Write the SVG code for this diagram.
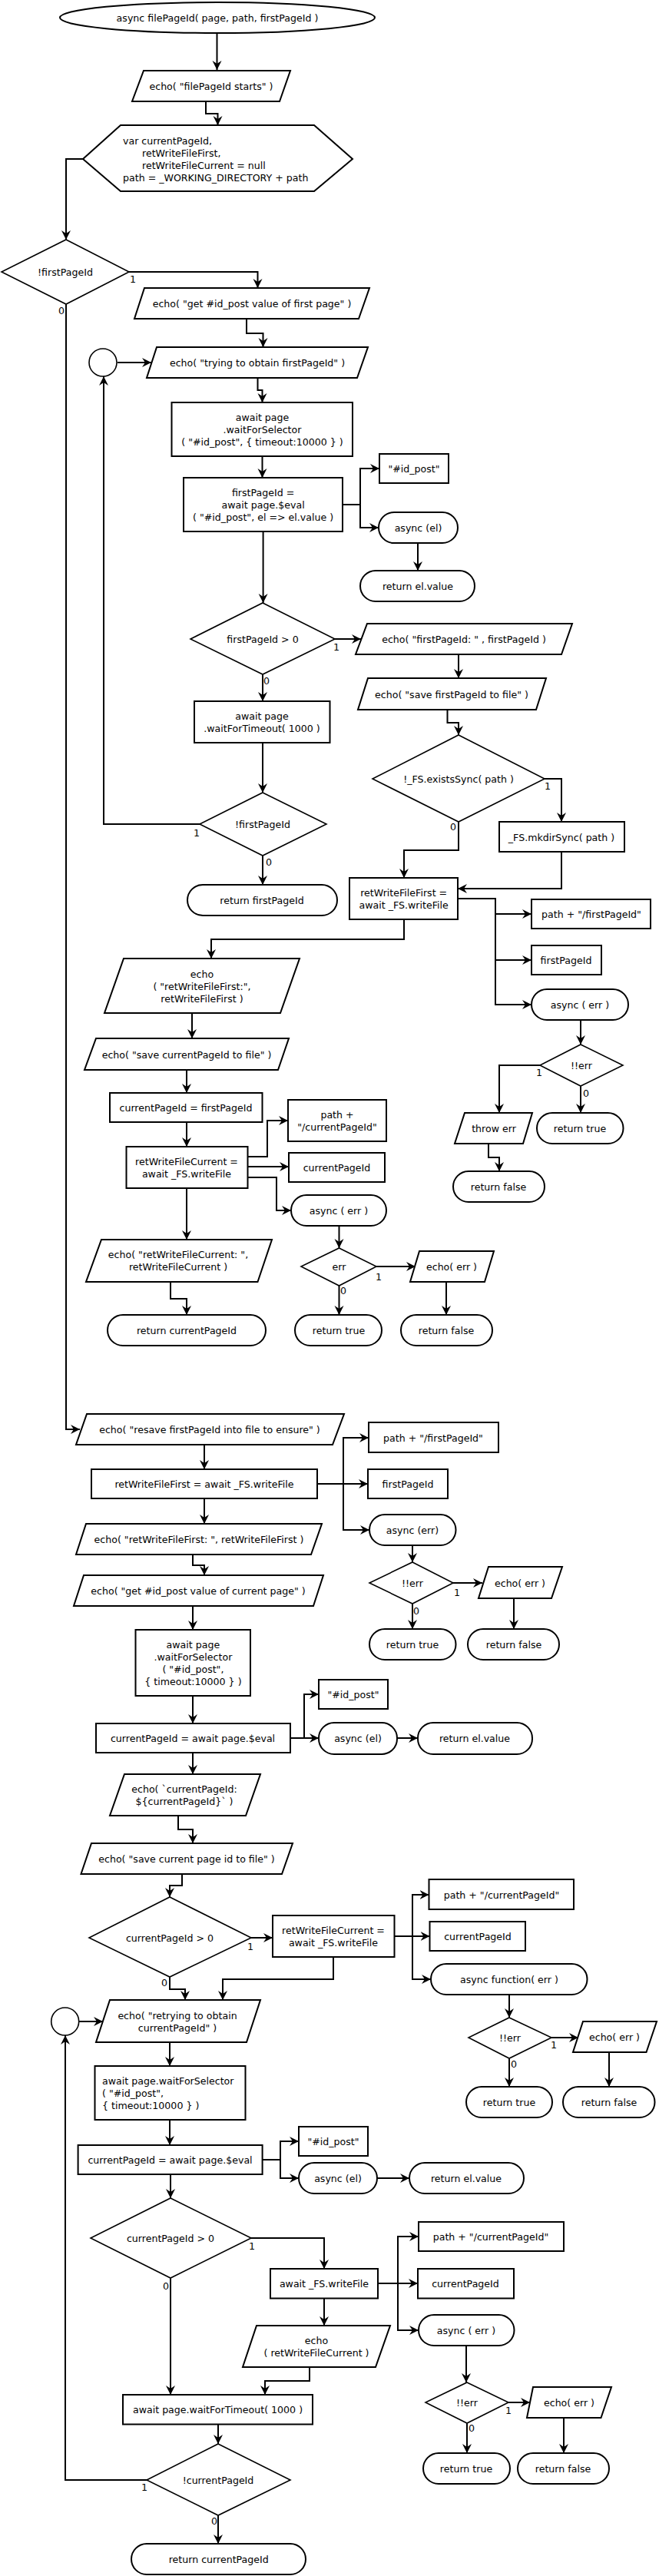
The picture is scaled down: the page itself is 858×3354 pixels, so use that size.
<svg xmlns="http://www.w3.org/2000/svg" width="858" height="3354" viewBox="0 0 858 3354">
<style>
.s{fill:#fff;stroke:#000;stroke-width:2}
.d{fill:#fff;stroke:#000;stroke-width:1.6}
.c{fill:none;stroke:#000;stroke-width:2}
text{font-family:"DejaVu Sans",sans-serif;font-size:12.6px;fill:#000;text-anchor:middle;dominant-baseline:central}
.l{text-anchor:start}
</style>
<defs>
<marker id="ah" markerWidth="14" markerHeight="14" refX="12" refY="7" orient="auto" markerUnits="userSpaceOnUse"><path d="M0,1 L12,7 L0,13 L4,7 Z" fill="#000"/></marker>
</defs>
<rect width="858" height="3354" fill="#fff"/>
<g id="connectors" class="c" marker-end="url(#ah)">
<path d="M282.5,43 V91"/>
<path d="M268,132 V148 H283.5 V163"/>
<path d="M108,207 H86 V312"/>
<path d="M168,354 H335.5 V375"/>
<path d="M321,415 V434 H342.5 V452"/>
<path d="M153,472 H197"/>
<path d="M335.5,492 V508 H341.5 V524"/>
<path d="M341.5,594 V622"/>
<path d="M446,657 H469 V610 H494"/>
<path d="M469,657 V687 H493"/>
<path d="M544,707 V743"/>
<path d="M342.6,692 V785"/>
<path d="M436,832 H470"/>
<path d="M342,878 V913"/>
<path d="M342,967 V1032"/>
<path d="M260,1073 H135 V490"/>
<path d="M342,1114 V1152"/>
<path d="M597,852 V883"/>
<path d="M582.5,924 V941 H597 V957"/>
<path d="M709,1014 H731 V1070"/>
<path d="M597,1070 V1107 H526 V1143"/>
<path d="M731,1109 V1157 H596"/>
<path d="M596,1170 H645 V1190 H692"/>
<path d="M645,1190 V1250 H692"/>
<path d="M645,1250 V1308 H692"/>
<path d="M756,1328 V1360"/>
<path d="M703,1387 H650 V1449"/>
<path d="M756,1414 V1449"/>
<path d="M636,1489 V1507 H650 V1525"/>
<path d="M526,1197 V1223 H275 V1248"/>
<path d="M250,1319 V1352"/>
<path d="M243,1393 V1423"/>
<path d="M243,1461 V1493"/>
<path d="M322,1506 H348 V1459 H375"/>
<path d="M322,1519 H376"/>
<path d="M322,1533 H360 V1576 H379"/>
<path d="M441.5,1596 V1625"/>
<path d="M490,1649 H541"/>
<path d="M441.5,1674 V1712"/>
<path d="M581,1669 V1712"/>
<path d="M243,1547 V1614"/>
<path d="M222,1669 V1691 H243 V1712"/>
<path d="M86,396 V1861 H104"/>
<path d="M266,1881 V1913"/>
<path d="M413,1932 H479"/>
<path d="M447,1932 V1872 H480"/>
<path d="M447,1932 V1992 H481"/>
<path d="M266,1951 V1984"/>
<path d="M251,2024 V2038 H266 V2051"/>
<path d="M251,2091 V2122"/>
<path d="M251,2208 V2244"/>
<path d="M537,2012 V2034"/>
<path d="M590,2061 H628"/>
<path d="M537,2088 V2121"/>
<path d="M669,2081 V2121"/>
<path d="M378,2263 H396 V2206 H415"/>
<path d="M396,2263 H415"/>
<path d="M517,2263 H544"/>
<path d="M251,2282 V2310"/>
<path d="M232,2364 V2382 H251 V2400"/>
<path d="M237,2440 V2455 H221 V2470"/>
<path d="M327,2523 H355"/>
<path d="M513.5,2521 H537 V2467 H558.5"/>
<path d="M537,2521 H559.5"/>
<path d="M537,2521 V2577 H561"/>
<path d="M663,2597 V2627"/>
<path d="M718,2653 H753"/>
<path d="M663,2680 V2717"/>
<path d="M793,2672 V2717"/>
<path d="M434,2548 V2577 H290 V2604"/>
<path d="M221,2574 V2590 H241 V2604"/>
<path d="M103,2632 H134"/>
<path d="M221,2659 V2690"/>
<path d="M221,2760 V2793"/>
<path d="M341.5,2812 H365 V2788 H389"/>
<path d="M365,2812 V2836 H389"/>
<path d="M491,2836 H533"/>
<path d="M222,2831 V2862"/>
<path d="M327,2914 H422 V2954"/>
<path d="M492,2973 H518 V2912 H545"/>
<path d="M518,2973 H544"/>
<path d="M518,2973 V3034 H545"/>
<path d="M422,2992 V3028"/>
<path d="M222,2966 V3118"/>
<path d="M403,3082 V3100 H345 V3118"/>
<path d="M607,3054 V3102"/>
<path d="M284,3156 V3182"/>
<path d="M191,3229 H85 V2650"/>
<path d="M284,3275 V3312"/>
<path d="M662,3128 H690"/>
<path d="M608,3155 V3194"/>
<path d="M734,3148 V3194"/>
</g>
<g id="labels">
<text x="173" y="363">1</text>
<text x="80" y="404">0</text>
<text x="438" y="842">1</text>
<text x="347" y="886">0</text>
<text x="256" y="1084">1</text>
<text x="350" y="1122">0</text>
<text x="713" y="1023">1</text>
<text x="590" y="1076">0</text>
<text x="702" y="1396">1</text>
<text x="763" y="1423">0</text>
<text x="493" y="1662">1</text>
<text x="447" y="1680">0</text>
<text x="595" y="2073">1</text>
<text x="542" y="2097">0</text>
<text x="326" y="2534">1</text>
<text x="214" y="2581">0</text>
<text x="721" y="2662">1</text>
<text x="669" y="2687">0</text>
<text x="328" y="2924">1</text>
<text x="216" y="2976">0</text>
<text x="188" y="3238">1</text>
<text x="279" y="3282">0</text>
<text x="662" y="3138">1</text>
<text x="614" y="3161">0</text>
</g>
<g id="n1"><ellipse class="s" cx="283" cy="23" rx="205" ry="20"/><text x="283" y="23">async filePageId( page, path, firstPageId )</text></g>
<g id="n2"><polygon class="s" points="187,92 378,92 364,132 172,132"/><text x="275" y="112">echo( "filePageId starts" )</text></g>
<g id="n3"><polygon class="s" points="108,207 157,163 409,163 459,207 409,249 157,249"/><text class="l" x="160" y="183">var currentPageId,</text><text class="l" x="185" y="199">retWriteFileFirst,</text><text class="l" x="185" y="215">retWriteFileCurrent = null</text><text class="l" x="160" y="231">path = _WORKING_DIRECTORY + path</text></g>
<g id="n4"><polygon class="d" points="86,312 168,354 86,396 2,354"/><text x="85" y="354">!firstPageId</text></g>
<g id="n5"><polygon class="s" points="188,375 481,375 467,415 175,415"/><text x="328" y="395">echo( "get #id_post value of first page" )</text></g>
<g id="n6"><polygon class="s" points="204,452 479,452 465,492 191,492"/><text x="335" y="472">echo( "trying to obtain firstPageId" )</text></g>
<g id="n7"><circle class="d" cx="134" cy="472" r="18"/></g>
<g id="n8"><rect class="s" x="223.5" y="524" width="235.5" height="70"/><text x="341.5" y="543">await page</text><text x="341.5" y="559">.waitForSelector</text><text x="341.5" y="575">( "#id_post", { timeout:10000 } )</text></g>
<g id="n9"><rect class="s" x="239" y="622" width="207" height="70"/><text x="342.6" y="641">firstPageId =</text><text x="342.6" y="657">await page.$eval</text><text x="342.6" y="673">( "#id_post", el =&gt; el.value )</text></g>
<g id="n10"><rect class="s" x="494" y="591" width="90" height="38"/><text x="539" y="610">"#id_post"</text></g>
<g id="n11"><rect class="s" x="493" y="667" width="103" height="40" rx="20"/><text x="544.5" y="687">async (el)</text></g>
<g id="n12"><rect class="s" x="469" y="743" width="149" height="40" rx="20"/><text x="544" y="763">return el.value</text></g>
<g id="n13"><polygon class="d" points="342,785 436,832 342,878 248,832"/><text x="342" y="832">firstPageId &gt; 0</text></g>
<g id="n14"><polygon class="s" points="478,812 745,812 731,852 463,852"/><text x="604" y="832">echo( "firstPageId: " , firstPageId )</text></g>
<g id="n15"><rect class="s" x="253" y="913" width="176.5" height="54"/><text x="341" y="932">await page</text><text x="341" y="948">.waitForTimeout( 1000 )</text></g>
<g id="n16"><polygon class="d" points="342,1032 425,1073 342,1114 260,1073"/><text x="342" y="1073">!firstPageId</text></g>
<g id="n17"><polygon class="s" points="479,883 711,883 698,924 466,924"/><text x="588" y="904">echo( "save firstPageId to file" )</text></g>
<g id="n18"><polygon class="d" points="597,957 709,1014 597,1070 485,1014"/><text x="597" y="1014">!_FS.existsSync( path )</text></g>
<g id="n19"><rect class="s" x="650" y="1070" width="163" height="39"/><text x="731" y="1090">_FS.mkdirSync( path )</text></g>
<g id="n20"><rect class="s" x="244" y="1152" width="195" height="40" rx="20"/><text x="341" y="1172">return firstPageId</text></g>
<g id="n21"><rect class="s" x="455" y="1143" width="141" height="54"/><text x="525.7" y="1162">retWriteFileFirst =</text><text x="525.7" y="1178">await _FS.writeFile</text></g>
<g id="n22"><rect class="s" x="692" y="1171" width="155" height="38"/><text x="770" y="1190">path + "/firstPageId"</text></g>
<g id="n23"><rect class="s" x="692" y="1231" width="91" height="38"/><text x="737" y="1250">firstPageId</text></g>
<g id="n24"><rect class="s" x="692" y="1288" width="126" height="40" rx="20"/><text x="755" y="1308">async ( err )</text></g>
<g id="n25"><polygon class="d" points="756,1360 811,1387 756,1414 703,1387"/><text x="757" y="1387">!!err</text></g>
<g id="n26"><polygon class="s" points="161,1248 390,1248 365,1319 136,1319"/><text x="263" y="1268">echo</text><text x="263" y="1284">( "retWriteFileFirst:",</text><text x="263" y="1300">retWriteFileFirst )</text></g>
<g id="n27"><polygon class="s" points="125,1352 376,1352 362,1393 110,1393"/><text x="243" y="1373">echo( "save currentPageId to file" )</text></g>
<g id="n28"><rect class="s" x="143" y="1423" width="198.5" height="38"/><text x="242" y="1442">currentPageId = firstPageId</text></g>
<g id="n29"><rect class="s" x="164.5" y="1493" width="158" height="54"/><text x="243" y="1512">retWriteFileCurrent =</text><text x="243" y="1528">await _FS.writeFile</text></g>
<g id="n30"><rect class="s" x="375" y="1432" width="128" height="54"/><text x="439" y="1451">path +</text><text x="439" y="1467">"/currentPageId"</text></g>
<g id="n31"><rect class="s" x="376" y="1501" width="125" height="38"/><text x="438.5" y="1520">currentPageId</text></g>
<g id="n32"><rect class="s" x="379" y="1556" width="124" height="40" rx="20"/><text x="441" y="1576">async ( err )</text></g>
<g id="n33"><polygon class="d" points="441.5,1625 490,1649 441.5,1674 392,1649"/><text x="441.5" y="1649">err</text></g>
<g id="n34"><polygon class="s" points="546,1629 643,1629 631,1669 534,1669"/><text x="588" y="1649">echo( err )</text></g>
<g id="n35"><polygon class="s" points="132,1614 354,1614 335.5,1669 112,1669"/><text x="232" y="1633">echo( "retWriteFileCurrent: ",</text><text x="232" y="1649">retWriteFileCurrent )</text></g>
<g id="n36"><polygon class="s" points="605,1449 693,1449 681,1489 592,1489"/><text x="643" y="1469">throw err</text></g>
<g id="n37"><rect class="s" x="699" y="1449" width="112.5" height="40" rx="20"/><text x="755" y="1469">return true</text></g>
<g id="n38"><rect class="s" x="590" y="1525" width="119" height="40" rx="20"/><text x="649" y="1545">return false</text></g>
<g id="n39"><rect class="s" x="140" y="1712" width="206" height="40" rx="20"/><text x="243" y="1732">return currentPageId</text></g>
<g id="n40"><rect class="s" x="384" y="1712" width="113" height="40" rx="20"/><text x="441" y="1732">return true</text></g>
<g id="n41"><rect class="s" x="522" y="1712" width="119" height="40" rx="20"/><text x="581" y="1732">return false</text></g>
<g id="n42"><polygon class="s" points="113,1841 448,1841 433,1881 99,1881"/><text x="273" y="1861">echo( "resave firstPageId into file to ensure" )</text></g>
<g id="n43"><rect class="s" x="119" y="1913" width="294" height="38"/><text x="266" y="1932">retWriteFileFirst = await _FS.writeFile</text></g>
<g id="n44"><rect class="s" x="480" y="1852" width="169" height="39"/><text x="564" y="1872">path + "/firstPageId"</text></g>
<g id="n45"><rect class="s" x="479" y="1913" width="104" height="38"/><text x="531" y="1932">firstPageId</text></g>
<g id="n46"><rect class="s" x="481" y="1972" width="112.5" height="40" rx="20"/><text x="537" y="1992">async (err)</text></g>
<g id="n47"><polygon class="d" points="537,2034 590,2061 537,2088 481,2061"/><text x="537" y="2061">!!err</text></g>
<g id="n48"><polygon class="s" points="636,2040 732,2040 718,2081 623,2081"/><text x="677" y="2061">echo( err )</text></g>
<g id="n49"><rect class="s" x="481" y="2121" width="112.5" height="40" rx="20"/><text x="537" y="2141">return true</text></g>
<g id="n50"><rect class="s" x="609" y="2121" width="119" height="40" rx="20"/><text x="669" y="2141">return false</text></g>
<g id="n51"><polygon class="s" points="112,1984 419,1984 405,2024 99,2024"/><text x="259" y="2004">echo( "retWriteFileFirst: ", retWriteFileFirst )</text></g>
<g id="n52"><polygon class="s" points="109,2051 421,2051 408,2091 96,2091"/><text x="258" y="2071">echo( "get #id_post value of current page" )</text></g>
<g id="n53"><rect class="s" x="176.5" y="2122" width="149.5" height="86"/><text x="251.4" y="2141">await page</text><text x="251.4" y="2157">.waitForSelector</text><text x="251.4" y="2173">( "#id_post",</text><text x="251.4" y="2189">{ timeout:10000 } )</text></g>
<g id="n54"><rect class="s" x="415" y="2187" width="90" height="38"/><text x="460" y="2206">"#id_post"</text></g>
<g id="n55"><rect class="s" x="125" y="2244" width="253" height="38"/><text x="251" y="2263">currentPageId = await page.$eval</text></g>
<g id="n56"><rect class="s" x="415" y="2243" width="102" height="41" rx="20"/><text x="466" y="2263">async (el)</text></g>
<g id="n57"><rect class="s" x="544" y="2243" width="149" height="41" rx="20"/><text x="618" y="2263">return el.value</text></g>
<g id="n58"><polygon class="s" points="162,2310 339,2310 320,2364 143,2364"/><text x="240" y="2329">echo( `currentPageId:</text><text x="240" y="2345">${currentPageId}` )</text></g>
<g id="n59"><polygon class="s" points="119,2400 381,2400 367,2440 105.5,2440"/><text x="243" y="2420">echo( "save current page id to file" )</text></g>
<g id="n60"><polygon class="d" points="221,2470 327,2523 221,2574 116,2523"/><text x="221" y="2523">currentPageId &gt; 0</text></g>
<g id="n61"><rect class="s" x="355" y="2494" width="158.5" height="54"/><text x="434" y="2513">retWriteFileCurrent =</text><text x="434" y="2529">await _FS.writeFile</text></g>
<g id="n62"><rect class="s" x="558.5" y="2447" width="188.5" height="39"/><text x="653" y="2467">path + "/currentPageId"</text></g>
<g id="n63"><rect class="s" x="559.5" y="2502" width="124.5" height="38"/><text x="622" y="2521">currentPageId</text></g>
<g id="n64"><rect class="s" x="561" y="2557" width="203.5" height="40" rx="20"/><text x="663" y="2577">async function( err )</text></g>
<g id="n65"><polygon class="d" points="663,2627 718,2653 663,2680 610,2653"/><text x="664" y="2653">!!err</text></g>
<g id="n66"><polygon class="s" points="759,2632 855,2632 841.5,2672 746,2672"/><text x="800" y="2652">echo( err )</text></g>
<g id="n67"><rect class="s" x="607" y="2717" width="112" height="40" rx="20"/><text x="663" y="2737">return true</text></g>
<g id="n68"><rect class="s" x="733" y="2717" width="119.5" height="40" rx="20"/><text x="793" y="2737">return false</text></g>
<g id="n69"><polygon class="s" points="143,2604 339,2604 321,2659 125,2659"/><text x="231" y="2624">echo( "retrying to obtain</text><text x="231" y="2640">currentPageId" )</text></g>
<g id="n70"><circle class="d" cx="84.7" cy="2632" r="18"/></g>
<g id="n71"><rect class="s" x="123.5" y="2690" width="196" height="70"/><text class="l" x="133" y="2709">await page.waitForSelector</text><text class="l" x="133" y="2725">( "#id_post",</text><text class="l" x="133" y="2741">{ timeout:10000 } )</text></g>
<g id="n72"><rect class="s" x="389" y="2769" width="90" height="38"/><text x="434" y="2788">"#id_post"</text></g>
<g id="n73"><rect class="s" x="101.6" y="2793" width="240" height="38"/><text x="221.5" y="2812">currentPageId = await page.$eval</text></g>
<g id="n74"><rect class="s" x="389" y="2816" width="102" height="40" rx="20"/><text x="440" y="2836">async (el)</text></g>
<g id="n75"><rect class="s" x="533" y="2816" width="149" height="40" rx="20"/><text x="607" y="2836">return el.value</text></g>
<g id="n76"><polygon class="d" points="222,2862 327,2914 222,2966 118,2914"/><text x="222" y="2914">currentPageId &gt; 0</text></g>
<g id="n77"><rect class="s" x="352" y="2954" width="140" height="38.5"/><text x="422" y="2973">await _FS.writeFile</text></g>
<g id="n78"><rect class="s" x="545" y="2893" width="189" height="38"/><text x="639" y="2912">path + "/currentPageId"</text></g>
<g id="n79"><rect class="s" x="544" y="2954" width="125" height="38.5"/><text x="606" y="2973">currentPageId</text></g>
<g id="n80"><rect class="s" x="545" y="3014" width="124.5" height="40" rx="20"/><text x="607" y="3034">async ( err )</text></g>
<g id="n81"><polygon class="s" points="334,3028 508,3028 489,3082 316,3082"/><text x="412" y="3047">echo</text><text x="412" y="3063">( retWriteFileCurrent )</text></g>
<g id="n82"><rect class="s" x="160" y="3118" width="247" height="38.5"/><text x="283.5" y="3137">await page.waitForTimeout( 1000 )</text></g>
<g id="n83"><polygon class="d" points="284,3182 378,3229 284,3275 191,3229"/><text x="284" y="3229">!currentPageId</text></g>
<g id="n84"><rect class="s" x="171" y="3312" width="227" height="40" rx="20"/><text x="284.7" y="3332">return currentPageId</text></g>
<g id="n85"><polygon class="d" points="608,3102 662,3128 608,3155 554,3128"/><text x="608" y="3128">!!err</text></g>
<g id="n86"><polygon class="s" points="694,3108 796,3108 782.5,3148 686,3148"/><text x="741" y="3128">echo( err )</text></g>
<g id="n87"><rect class="s" x="551" y="3194" width="113" height="40" rx="20"/><text x="607" y="3214">return true</text></g>
<g id="n88"><rect class="s" x="674" y="3194" width="119" height="40" rx="20"/><text x="733" y="3214">return false</text></g>
</svg>
